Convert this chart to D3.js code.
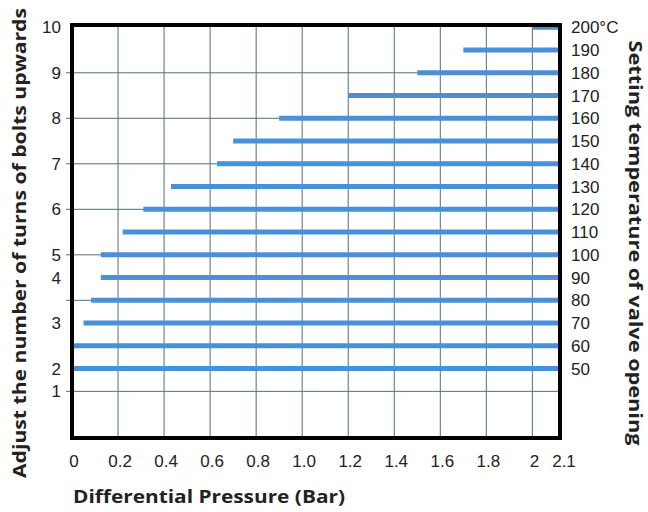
<!DOCTYPE html>
<html>
<head>
<meta charset="utf-8">
<script src="https://cdn.jsdelivr.net/npm/d3@7"></script>
<style>
  body { margin: 0; background: #fff; }
  text { font-family: "Liberation Sans", Arial, sans-serif; fill: #222; }
  .title { font-family: "Open Sans", "Noto Sans", sans-serif; font-weight: 700; }
</style>
</head>
<body>
<div id="chart"></div>
<script>
// data: setting temperature -> minimum differential pressure (bars run to the right edge)
const temps = [200, 190, 180, 170, 160, 150, 140, 130, 120, 110, 100, 90, 80, 70, 60, 50];
const startPressure = [2.0, 1.7, 1.5, 1.2, 0.9, 0.7, 0.63, 0.43, 0.31, 0.22, 0.125, 0.125, 0.083, 0.05, 0.0, 0.005];

// left axis: turns of bolts, placed at the matching temperature
const turns = [1, 2, 3, 4, 5, 6, 7, 8, 9, 10];
const turnTemps = [40, 50, 70, 90, 100, 120, 140, 160, 180, 200];

// horizontal grid rows (in temperature units)
const gridTemps = [180, 160, 140, 120, 100, 80, 40];

// x ticks
const xTicks = [0, 0.2, 0.4, 0.6, 0.8, 1.0, 1.2, 1.4, 1.6, 1.8, 2.0];
const xTickLabels = ["0", "0.2", "0.4", "0.6", "0.8", "1.0", "1.2", "1.4", "1.6", "1.8", "2"];

// constants
const width = 648, height = 512;
const plotLeft = 72, plotRight = 560, plotTop = 25, plotBottom = 438;
const barColor = "#4a90d9",
      gridColor = "#52707f";
const tickSize = 17;

const svg = d3.select("#chart")
  .append("svg")
  .attr("width", width)
  .attr("height", height);

const x = d3.scaleLinear().domain([0, 2.12]).range([plotLeft, plotRight]);
const y = d3.scaleLinear().domain([19.5, 201]).range([plotBottom, plotTop]);

// vertical grid
svg.append("g")
  .selectAll("line")
  .data(xTicks.slice(1))
  .join("line")
  .attr("x1", d => x(d)).attr("x2", d => x(d))
  .attr("y1", plotTop).attr("y2", plotBottom)
  .attr("stroke", gridColor)
  .attr("stroke-width", 1);

// horizontal grid, with small ticks out to the left
svg.append("g")
  .selectAll("line")
  .data(gridTemps)
  .join("line")
  .attr("x1", plotLeft - 6).attr("x2", plotRight)
  .attr("y1", d => y(d)).attr("y2", d => y(d))
  .attr("stroke", gridColor)
  .attr("stroke-width", 1);

// bars
svg.append("g")
  .selectAll("line")
  .data(temps)
  .join("line")
  .attr("x1", (d, i) => x(startPressure[i]))
  .attr("x2", x.range()[1] + 1)
  .attr("y1", d => y(d)).attr("y2", d => y(d))
  .attr("stroke", barColor)
  .attr("stroke-width", 5);

// frame
svg.append("rect")
  .attr("x", plotLeft).attr("y", plotTop)
  .attr("width", plotRight - plotLeft).attr("height", plotBottom - plotTop)
  .attr("fill", "none")
  .attr("stroke", "#000")
  .attr("stroke-width", 4);

// x tick labels
svg.append("g")
  .selectAll("text")
  .data(xTicks)
  .join("text")
  .attr("x", d => x(d) + 2)
  .attr("y", 467)
  .attr("text-anchor", "middle")
  .attr("font-size", tickSize)
  .text((d, i) => xTickLabels[i]);
svg.append("text")
  .attr("x", x.range()[1] + 4)
  .attr("y", 467)
  .attr("text-anchor", "middle")
  .attr("font-size", tickSize)
  .text("2.1");

// left tick labels (turns)
svg.append("g")
  .selectAll("text")
  .data(turns)
  .join("text")
  .attr("x", 61)
  .attr("y", (d, i) => y(turnTemps[i]) + 6)
  .attr("text-anchor", "end")
  .attr("font-size", tickSize)
  .text(d => d);

// right tick labels (temperature)
svg.append("g")
  .selectAll("text")
  .data(temps)
  .join("text")
  .attr("x", 571)
  .attr("y", d => y(d) + 6)
  .attr("font-size", tickSize)
  .text(d => d === 200 ? "200°C" : d);

// axis titles
svg.append("text")
  .attr("class", "title")
  .attr("transform", "translate(26,243) rotate(-90)")
  .attr("text-anchor", "middle")
  .attr("font-size", 18)
  .attr("textLength", 470)
  .attr("lengthAdjust", "spacingAndGlyphs")
  .text("Adjust the number of turns of bolts upwards");

svg.append("text")
  .attr("class", "title")
  .attr("transform", "translate(629,243) rotate(90)")
  .attr("text-anchor", "middle")
  .attr("font-size", 18)
  .attr("textLength", 405)
  .attr("lengthAdjust", "spacingAndGlyphs")
  .text("Setting temperature of valve opening");

svg.append("text")
  .attr("class", "title")
  .attr("x", 73)
  .attr("y", 503)
  .attr("font-size", 18)
  .attr("textLength", 272)
  .attr("lengthAdjust", "spacingAndGlyphs")
  .text("Differential Pressure (Bar)");
</script>
</body>
</html>
